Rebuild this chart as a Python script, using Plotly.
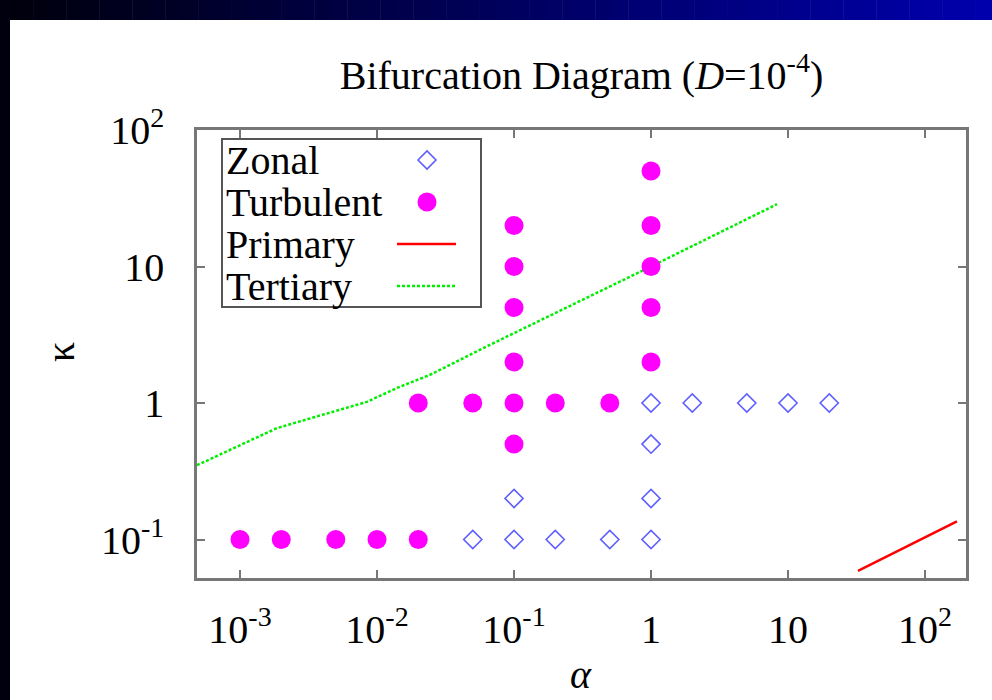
import plotly.graph_objects as go

# ---------------- data ----------------
zonal_alpha = [0.05, 0.1, 0.2, 0.5, 1, 0.1, 1, 1, 1, 2, 5, 10, 20]
zonal_kappa = [0.1, 0.1, 0.1, 0.1, 0.1, 0.2, 0.2, 0.5, 1, 1, 1, 1, 1]

turb_alpha = [0.001, 0.002, 0.005, 0.01, 0.02,
              0.02, 0.05, 0.1, 0.2, 0.5,
              0.1, 0.1, 0.1, 0.1, 0.1,
              1, 1, 1, 1, 1]
turb_kappa = [0.1, 0.1, 0.1, 0.1, 0.1,
              1, 1, 1, 1, 1,
              0.5, 2, 5, 10, 20,
              2, 5, 10, 20, 50]

primary_alpha = [32.4, 171]
primary_kappa = [0.059, 0.136]

tertiary_alpha = [4.85e-4, 0.00186, 0.00845, 0.014, 0.0244, 0.0668, 1.0, 8.3]
tertiary_kappa = [0.35, 0.655, 1.02, 1.29, 1.61, 2.67, 10, 28.6]

x_tickvals = [1e-3, 1e-2, 1e-1, 1, 10, 100]
x_ticktext = ["10<sup>-3</sup>", "10<sup>-2</sup>", "10<sup>-1</sup>", "1", "10", "10<sup>2</sup>"]
y_tickvals = [0.1, 1, 10, 100]
y_ticktext = ["10<sup>-1</sup>", "1", "10", "10<sup>2</sup>"]

legend_names = ["Zonal", "Turbulent", "Primary", "Tertiary"]

# ---------------- styles ----------------
W, H = 992, 700
L, R, T, B = 197, 966, 130, 578
FONT = "Liberation Serif, Times New Roman, serif"
FS = 40
ZONAL_C = "rgb(95,95,255)"
TURB_C = "#ff00ff"
PRIM_C = "#ff0000"
TERT_C = "#00ee00"
AX_C = "#777777"


def px(x):
    return (x - L) / (R - L)


def py(y):
    return (B - y) / (B - T)


fig = go.Figure()

fig.add_trace(go.Scatter(x=tertiary_alpha, y=tertiary_kappa, mode="lines", name="Tertiary",
                         line=dict(color=TERT_C, width=2.5, dash="3px,2px")))
fig.add_trace(go.Scatter(x=primary_alpha, y=primary_kappa, mode="lines", name="Primary",
                         line=dict(color=PRIM_C, width=2.5)))
fig.add_trace(go.Scatter(x=turb_alpha, y=turb_kappa, mode="markers", name="Turbulent",
                         marker=dict(symbol="circle", size=19, color=TURB_C, line=dict(width=0))))
fig.add_trace(go.Scatter(x=zonal_alpha, y=zonal_kappa, mode="markers", name="Zonal",
                         marker=dict(symbol="diamond-open", size=14, color=ZONAL_C,
                                     line=dict(width=1.6, color=ZONAL_C))))

shapes = []
# top gradient band
n = 60
for i in range(n):
    x0 = W * i / n
    x1 = W * (i + 1) / n + 0.5
    f = i / (n - 1)
    col = "rgb(0,0,%d)" % int(12 + f * 160)
    shapes.append(dict(type="rect", xref="paper", yref="paper",
                       x0=px(x0), x1=px(x1), y0=py(20), y1=py(0),
                       fillcolor=col, line=dict(width=0), layer="below"))
# left dark band
shapes.append(dict(type="rect", xref="paper", yref="paper",
                   x0=px(0), x1=px(10), y0=py(H), y1=py(0),
                   fillcolor="#00000f", line=dict(width=0), layer="below"))
# legend box
shapes.append(dict(type="rect", xref="paper", yref="paper",
                   x0=px(222), x1=px(481), y0=py(307), y1=py(139),
                   fillcolor="white", line=dict(color="#555555", width=2), layer="above"))

annotations = []
rows_y = [160, 202, 244, 286]
for name, yy in zip(legend_names, rows_y):
    annotations.append(dict(text=name, xref="paper", yref="paper", x=px(224), y=py(yy),
                            xanchor="left", yanchor="middle", showarrow=False,
                            font=dict(family=FONT, size=FS, color="black")))
# legend samples
# Zonal diamond
cx, cy = 427, rows_y[0]
d = 9
shapes.append(dict(type="path", xref="paper", yref="paper",
                   path="M %f %f L %f %f L %f %f L %f %f Z" % (
                       px(cx - d), py(cy), px(cx), py(cy - d), px(cx + d), py(cy), px(cx), py(cy + d)),
                   line=dict(color=ZONAL_C, width=1.6), fillcolor="rgba(0,0,0,0)", layer="above"))
# Turbulent circle
cx, cy = 427, rows_y[1]
r = 9.5
shapes.append(dict(type="circle", xref="paper", yref="paper",
                   x0=px(cx - r), x1=px(cx + r), y0=py(cy + r), y1=py(cy - r),
                   fillcolor=TURB_C, line=dict(width=0), layer="above"))
# Primary line
shapes.append(dict(type="line", xref="paper", yref="paper",
                   x0=px(397), x1=px(456), y0=py(rows_y[2]), y1=py(rows_y[2]),
                   line=dict(color=PRIM_C, width=2.5), layer="above"))
# Tertiary line
shapes.append(dict(type="line", xref="paper", yref="paper",
                   x0=px(397), x1=px(456), y0=py(rows_y[3]), y1=py(rows_y[3]),
                   line=dict(color=TERT_C, width=2.5, dash="3px,2px"), layer="above"))

# axis titles
annotations.append(dict(text="κ", xref="paper", yref="paper", x=px(60), y=py(352),
                        xanchor="center", yanchor="middle", textangle=-90, showarrow=False,
                        font=dict(family=FONT, size=FS, color="black")))
annotations.append(dict(text="<i>α</i>", xref="paper", yref="paper", x=px(581), y=py(699),
                        xanchor="center", yanchor="bottom", showarrow=False,
                        font=dict(family=FONT, size=FS, color="black")))

axis_common = dict(type="log", showgrid=False, zeroline=False, showline=True, linecolor=AX_C,
                   linewidth=2.5, mirror="allticks", ticks="inside", ticklen=8, tickwidth=1.5,
                   tickcolor=AX_C, tickfont=dict(family=FONT, size=FS, color="black"))

fig.update_layout(
    width=W, height=H, autosize=False,
    margin=dict(l=L, r=W - R, t=T, b=H - B, pad=0),
    paper_bgcolor="white", plot_bgcolor="white",
    showlegend=False,
    title=dict(text="Bifurcation Diagram (<i>D</i>=10<sup>-4</sup>)", x=0.5, xref="paper",
               y=1 - 75 / H, yref="container", xanchor="center", yanchor="middle",
               font=dict(family=FONT, size=FS, color="black")),
    xaxis=dict(axis_common, range=[-3.314, 2.299], tickvals=x_tickvals, ticktext=x_ticktext,
               ticklabelstandoff=14),
    yaxis=dict(axis_common, range=[-1.282, 2.0], tickvals=y_tickvals, ticktext=y_ticktext,
               ticklabelstandoff=22),
    shapes=shapes,
    annotations=annotations,
)

fig.write_html("out.html")
